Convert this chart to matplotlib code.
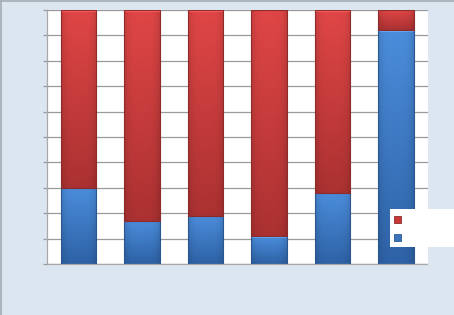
import numpy as np
import matplotlib
matplotlib.use("Agg")
import matplotlib.pyplot as plt
from matplotlib.patches import Rectangle
from matplotlib.lines import Line2D
from matplotlib.colors import to_rgb

# -------------------
#  Dados do gráfico
# -------------------

categories = ['1', '2', '3', '4', '5', '6']
blue_values = [30, 17, 19, 11, 28, 92]
red_values = [70, 83, 81, 89, 72, 8]
y_ticks = list(range(0, 101, 10))

BG = '#dce6f1'
BAR_W = 0.56
PX_PER_UNIT = 2.54  # altura de 1% em pixels


def gradient_img(top, bottom, n_rows, n_cols=40):
    top = np.array(to_rgb(top))
    bottom = np.array(to_rgb(bottom))
    t = np.linspace(0, 1, n_rows)[:, None, None]
    img = top * (1 - t) + bottom * t
    # escurecer bordas laterais
    xs = np.linspace(-1, 1, n_cols)
    shade = 1 - 0.12 * np.abs(xs) ** 4
    img = img * shade[None, :, None]
    # brilho no topo
    hl = min(2, n_rows)
    img[:hl] = np.clip(img[:hl] * 1.18 + 0.05, 0, 1)
    return np.clip(img, 0, 1)


def gradient_bar(ax, x, bottom, height, top_c, bot_c, edge_c):
    rect = Rectangle((x - BAR_W / 2, bottom), BAR_W, height,
                     facecolor='none', edgecolor=edge_c, linewidth=0.8, zorder=3)
    ax.add_patch(rect)
    n_rows = max(int(round(height * PX_PER_UNIT)), 2)
    im = ax.imshow(gradient_img(top_c, bot_c, n_rows),
                   extent=(x - BAR_W / 2, x + BAR_W / 2, bottom, bottom + height),
                   aspect='auto', interpolation='bilinear', zorder=2)
    im.set_clip_path(rect)


fig = plt.figure(figsize=(4.54, 3.15), dpi=100, facecolor=BG)
ax = fig.add_axes([47 / 454, 51 / 315, 380.5 / 454, 254 / 315])
ax.set_facecolor('white')

x = np.arange(len(categories))
for i in range(len(categories)):
    gradient_bar(ax, x[i], 0, blue_values[i], '#4b8ddb', '#2e62a6', '#2a5790')
    gradient_bar(ax, x[i], blue_values[i], red_values[i], '#e04646', '#ab3131', '#8e2a2a')

ax.set_xlim(-0.5, len(categories) - 0.5)
ax.set_ylim(0, 100)
ax.set_yticks(y_ticks)
ax.set_yticklabels([])
ax.set_xticks([])
ax.yaxis.grid(True, color='#9a9a9a', linewidth=0.9)
ax.set_axisbelow(True)
ax.tick_params(axis='y', length=3, width=0.9, color='#9a9a9a', direction='out')
for s in ['top', 'right']:
    ax.spines[s].set_visible(False)
for s in ['left', 'bottom']:
    ax.spines[s].set_color('#a8a8a8')
    ax.spines[s].set_linewidth(0.9)

# Caixa da legenda (cortada na borda direita)
fig.patches.append(Rectangle((390 / 454, 68 / 315), 70 / 454, 38 / 315,
                             transform=fig.transFigure, facecolor='white',
                             edgecolor='none', zorder=5))
handles = [Rectangle((0, 0), 1, 1, facecolor='#c83838', edgecolor='#8e2a2a', linewidth=0.6),
           Rectangle((0, 0), 1, 1, facecolor='#3a74bd', edgecolor='#2a5790', linewidth=0.6)]
leg = fig.legend(handles, ['', ''], loc='upper left',
                 bbox_to_anchor=(394 / 454, 1 - 214.5 / 315),
                 frameon=False, fontsize=7, handlelength=0.72, handleheight=0.72,
                 labelspacing=0.9, borderpad=0, borderaxespad=0, handletextpad=0)
leg.set_zorder(6)

# Bordas da figura
fig.add_artist(Line2D([0, 1], [1 - 0.5 / 315] * 2, transform=fig.transFigure,
                      color='#a4acb4', linewidth=1.2))
fig.add_artist(Line2D([0.5 / 454] * 2, [0, 1], transform=fig.transFigure,
                      color='#a4acb4', linewidth=1.2))

fig.savefig('out.png', dpi=100, facecolor=BG)
